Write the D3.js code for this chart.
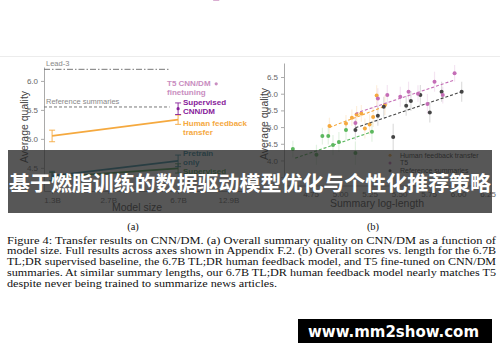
<!DOCTYPE html>
<html>
<head>
<meta charset="utf-8">
<script src="https://cdn.jsdelivr.net/npm/d3@7"></script>
<style>
body { margin: 0; background: #fff; }
svg { display: block; font-family: "Liberation Sans", Arial, sans-serif; }
.axis path, .axis line { stroke: #aaa; stroke-width: 1; }
.axis text { fill: #666; font-size: 8px; font-family: "Liberation Sans", Arial, sans-serif; }
</style>
</head>
<body>
<svg id="fig" width="500" height="362"></svg>
<script>
// ---- panel (a): quality vs model size ----
var sizeTicks = [1.3, 2.7, 6.7, 12.9];
var sizeTickLabels = ["1.3B", "2.7B", "6.7B", "12.9B"];
var qualityTicksA = [4.5, 5.0, 5.5, 6.0];

var modelSizes = [1.3, 6.7];
var hfQuality = [5.05, 5.33];
var hfErr = [0.1, 0.08];
var pretrainQuality = [4.36, 4.62];
var pretrainErr = [0.08, 0.1];
var supervisedQuality = [4.34, 4.49];
var supervisedErr = [0.08, 0.08];

var supCnnSize = 6.7, supCnnQuality = 5.52, supCnnErr = 0.1;
var t5Size = 11, t5Quality = 5.95, t5Err = 0.1;
var lead3Quality = 6.2, refQuality = 5.55;

// ---- panel (b): quality vs summary log-length ----
var lengthTicks = [4.75, 5.0, 5.25, 5.5, 5.75, 6.0, 6.25];
var qualityTicksB = [3.5, 4.0, 4.5, 5.0, 5.5, 6.0, 6.5];

var t5Len   = [5.97, 5.80, 5.87, 5.58, 5.51, 5.66, 5.40, 5.32, 5.74, 5.13];
var t5Score = [6.61, 6.36, 5.96, 6.06, 5.91, 6.00, 5.96, 5.86, 5.69, 5.12];
var t5Err   = [0.25, 0.3, 0.25, 0.3, 0.3, 0.25, 0.3, 0.3, 0.3, 0.3];

var refLen   = [6.03, 5.86, 5.68, 5.60, 5.56, 5.76, 5.37, 5.32, 5.45, 5.13];
var refScore = [6.06, 6.06, 5.96, 5.78, 5.64, 5.44, 5.61, 5.34, 4.70, 4.91];
var refErr   = [0.3, 0.3, 0.3, 0.3, 0.3, 0.3, 0.3, 0.3, 0.4, 0.3];

var hfLen   = [4.91, 5.05, 5.10, 5.14, 5.18, 5.21, 5.25, 5.28, 5.31, 5.38];
var hfScore = [5.03, 5.11, 5.28, 5.38, 5.41, 4.96, 5.08, 5.30, 5.95, 5.66];
var hfErr2  = [0.25, 0.25, 0.25, 0.25, 0.25, 0.3, 0.3, 0.3, 0.3, 0.3];

var supLen   = [4.60, 4.80, 4.85, 4.90, 4.94, 4.99, 5.05, 5.13, 5.27];
var supScore = [4.34, 4.17, 4.73, 4.73, 4.46, 4.55, 4.91, 4.22, 4.86];
var supErr2  = [0.25, 0.3, 0.25, 0.25, 0.3, 0.3, 0.3, 0.35, 0.3];

var t5FitLen = [5.13, 5.97], t5FitScore = [5.41, 6.41];
var refFitLen = [5.13, 6.03], refFitScore = [4.98, 6.06];
var hfFitLen = [4.91, 5.37], hfFitScore = [4.99, 5.61];
var supFitLen = [4.62, 5.27], supFitScore = [4.07, 4.86];

var legendNames = ["Human feedback transfer", "T5", "Reference summaries"];

var captionLines = [
  "Figure 4: Transfer results on CNN/DM. (a) Overall summary quality on CNN/DM as a function of",
  "model size. Full results across axes shown in Appendix F.2. (b) Overall scores vs. length for the 6.7B",
  "TL;DR supervised baseline, the 6.7B TL;DR human feedback model, and T5 fine-tuned on CNN/DM",
  "summaries. At similar summary lengths, our 6.7B TL;DR human feedback model nearly matches T5",
  "despite never being trained to summarize news articles."
];

var colHF = "#f5a93f", colT5 = "#c46db6", colRef = "#444", colSup = "#5cb85f",
    colPre = "#2d8aa0", colSupA = "#3f9a4a", colSupCnn = "#87209a", colT5a = "#c98dc0";

var svg = d3.select("#fig");

// faint top rule of the figure
svg.append("line").attr("x1", 0).attr("x2", 500).attr("y1", 56.5).attr("y2", 56.5)
    .attr("stroke", "#ececec");

// ================= panel (a) =================
var xA = d3.scaleLog().domain([1.17, 16]).range([44, 245]),
    yA = d3.scaleLinear().domain([4.1, 6.24]).range([191, 67]);

var ga = svg.append("g");

ga.append("g").attr("class", "axis")
    .attr("transform", "translate(44,0)")
    .call(d3.axisLeft(yA).tickValues(qualityTicksA).tickFormat(d3.format(".1f")).tickSize(3).tickSizeOuter(0));

ga.append("g").attr("class", "axis")
    .attr("transform", "translate(0,191)")
    .call(d3.axisBottom(xA).tickValues(sizeTicks).tickFormat(function(d, i) { return sizeTickLabels[i]; }).tickSize(3).tickSizeOuter(0));

ga.append("text").attr("transform", "translate(28,127) rotate(-90)")
    .attr("text-anchor", "middle").attr("fill", "#444").style("font-size", "10.5px")
    .text("Average quality");
ga.append("text").attr("x", 137).attr("y", 211)
    .attr("text-anchor", "middle").attr("fill", "#444").style("font-size", "10.5px")
    .text("Model size");

// baselines
function baseline(v, dash, label) {
    ga.append("line")
        .attr("x1", xA(1.17)).attr("x2", xA(6.0))
        .attr("y1", yA(v)).attr("y2", yA(v))
        .attr("stroke", "#777").attr("stroke-width", 1)
        .attr("stroke-dasharray", dash);
    ga.append("text").attr("x", 46).attr("y", yA(v) - 3)
        .attr("fill", "#888").style("font-size", "7.5px").text(label);
}
baseline(lead3Quality, "6,2,1.5,2", "Lead-3");
baseline(refQuality, "3,2", "Reference summaries");

function errBar(g, x, y0, y1, col, cap) {
    g.append("line").attr("x1", x).attr("x2", x).attr("y1", y0).attr("y2", y1)
        .attr("stroke", col).attr("stroke-width", 0.9);
    [y0, y1].forEach(function(y) {
        g.append("line").attr("x1", x - cap).attr("x2", x + cap).attr("y1", y).attr("y2", y)
            .attr("stroke", col).attr("stroke-width", 0.9);
    });
}

var lineA = d3.line()
    .x(function(d) { return xA(d[0]); })
    .y(function(d) { return yA(d[1]); });

[[supervisedQuality, supervisedErr, colSupA], [pretrainQuality, pretrainErr, colPre], [hfQuality, hfErr, colHF]]
    .forEach(function(s) {
        var pts = modelSizes.map(function(m, i) { return [m, s[0][i]]; });
        ga.append("path").attr("d", lineA(pts)).attr("fill", "none")
            .attr("stroke", s[2]).attr("stroke-width", 1.8);
        pts.forEach(function(p, i) {
            errBar(ga, xA(p[0]), yA(p[1] - s[1][i]), yA(p[1] + s[1][i]), s[2], 3);
        });
    });

errBar(ga, xA(supCnnSize), yA(supCnnQuality - supCnnErr), yA(supCnnQuality + supCnnErr), colSupCnn, 3);
ga.append("circle").attr("cx", xA(supCnnSize)).attr("cy", yA(supCnnQuality)).attr("r", 1.6).attr("fill", colSupCnn);
errBar(ga, xA(t5Size), yA(t5Quality - t5Err), yA(t5Quality + t5Err), colT5a, 3);
ga.append("circle").attr("cx", xA(t5Size)).attr("cy", yA(t5Quality)).attr("r", 1.6).attr("fill", colT5a);

function label2(x, y, lines, col, weight) {
    var t = ga.append("text").attr("x", x).attr("y", y).attr("fill", col)
        .style("font-size", "8px").style("font-weight", weight);
    lines.forEach(function(l, i) {
        t.append("tspan").attr("x", x).attr("dy", i ? 9 : 0).text(l);
    });
}
label2(167, 85.5, ["T5 CNN/DM", "finetuning"], colT5a, 600);
label2(183, 105, ["Supervised", "CNN/DM"], colSupCnn, 700);
label2(183, 126, ["Human feedback", "transfer"], colHF, 700);
label2(183, 156, ["Pretrain", "only"], colPre, 700);
label2(183, 174, ["Supervised"], colSupA, 700);

// ================= panel (b) =================
var xB = d3.scaleLinear().domain([4.525, 6.27]).range([284, 490]),
    yB = d3.scaleLinear().domain([3.25, 6.92]).range([185.5, 63]);

var gb = svg.append("g");

gb.append("g").attr("class", "axis")
    .attr("transform", "translate(284,0)")
    .call(d3.axisLeft(yB).tickValues(qualityTicksB).tickFormat(d3.format(".1f")).tickSize(3).tickSizeOuter(0));

gb.append("g").attr("class", "axis")
    .attr("transform", "translate(0,185.5)")
    .call(d3.axisBottom(xB).tickValues(lengthTicks).tickFormat(d3.format(".2f")).tickSize(3).tickSizeOuter(0));

gb.append("text").attr("transform", "translate(268,124) rotate(-90)")
    .attr("text-anchor", "middle").attr("fill", "#444").style("font-size", "10.5px")
    .text("Average quality");
gb.append("text").attr("x", 377).attr("y", 207)
    .attr("text-anchor", "middle").attr("fill", "#444").style("font-size", "10.5px")
    .text("Summary log-length");

var seriesB = [
    {len: supLen, score: supScore, err: supErr2, col: colSup, fl: supFitLen, fs: supFitScore},
    {len: hfLen, score: hfScore, err: hfErr2, col: colHF, fl: hfFitLen, fs: hfFitScore},
    {len: refLen, score: refScore, err: refErr, col: colRef, fl: refFitLen, fs: refFitScore},
    {len: t5Len, score: t5Score, err: t5Err, col: colT5, fl: t5FitLen, fs: t5FitScore}
];

seriesB.forEach(function(s) {
    s.len.forEach(function(l, i) {
        gb.append("line").attr("x1", xB(l)).attr("x2", xB(l))
            .attr("y1", yB(s.score[i] - s.err[i])).attr("y2", yB(s.score[i] + s.err[i]))
            .attr("stroke", s.col).attr("stroke-opacity", 0.18).attr("stroke-width", 1.2);
    });
});
seriesB.forEach(function(s) {
    gb.append("line")
        .attr("x1", xB(s.fl[0])).attr("y1", yB(s.fs[0]))
        .attr("x2", xB(s.fl[1])).attr("y2", yB(s.fs[1]))
        .attr("stroke", s.col).attr("stroke-width", 1.1).attr("stroke-dasharray", "3,2");
    gb.selectAll(null).data(s.len).enter().append("circle")
        .attr("cx", function(d) { return xB(d); })
        .attr("cy", function(d, i) { return yB(s.score[i]); })
        .attr("r", 2).attr("fill", s.col);
});

var legCols = [colHF, colT5, colRef];
legendNames.forEach(function(n, i) {
    var y = 157.5 + i * 7.8;
    gb.append("circle").attr("cx", 390).attr("cy", y - 2.3).attr("r", 1.5).attr("fill", legCols[i]);
    gb.append("text").attr("x", 400).attr("y", y).attr("fill", "#333")
        .style("font-size", "7px").text(n);
});

// sub-figure labels
svg.append("text").attr("x", 133).attr("y", 230).attr("text-anchor", "middle")
    .style("font-family", "'Liberation Serif', serif").style("font-size", "10.5px").attr("fill", "#111").text("(a)");
svg.append("text").attr("x", 373).attr("y", 230).attr("text-anchor", "middle")
    .style("font-family", "'Liberation Serif', serif").style("font-size", "10.5px").attr("fill", "#111").text("(b)");

// caption
captionLines.forEach(function(l, i) {
    svg.append("text").attr("x", 7).attr("y", 243.5 + i * 10.8)
        .attr("textLength", i < 4 ? 489 : 270).attr("lengthAdjust", "spacingAndGlyphs")
        .style("font-family", "'Liberation Serif', serif").style("font-size", "10.8px")
        .attr("fill", "#111").text(l);
});

// title banner over the charts
svg.append("rect").attr("x", 8).attr("y", 150).attr("width", 484).attr("height", 63)
    .attr("fill", "rgba(40,40,40,0.78)");
svg.append("text").attr("x", 250).attr("y", 191).attr("text-anchor", "middle")
    .attr("textLength", 482).attr("lengthAdjust", "spacingAndGlyphs")
    .style("font-family", "'Noto Sans CJK SC', sans-serif").style("font-weight", 700)
    .style("font-size", "20.5px").attr("fill", "#fff")
    .text("基于燃脂训练的数据驱动模型优化与个性化推荐策略");

// watermark
svg.append("rect").attr("x", 298).attr("y", 319).attr("width", 194).attr("height", 24).attr("fill", "#000");
svg.append("text").attr("x", 393.5).attr("y", 337).attr("text-anchor", "middle")
    .attr("textLength", 171).attr("lengthAdjust", "spacingAndGlyphs")
    .style("font-family", "'DejaVu Sans', sans-serif").style("font-weight", 700)
    .style("font-size", "15px").attr("fill", "#fff")
    .text("www.mm2show.com");
</script>
</body>
</html>
